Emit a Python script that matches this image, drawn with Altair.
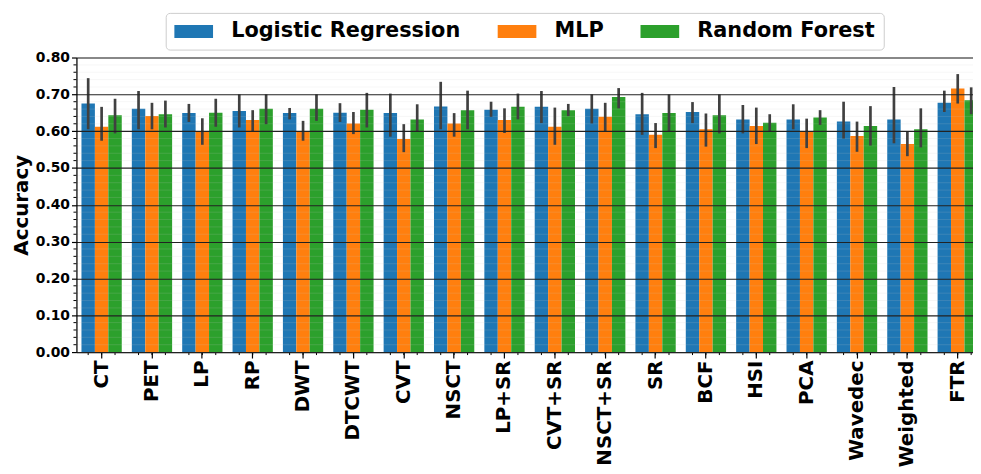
import altair as alt
import pandas as pd

categories = ["CT", "PET", "LP", "RP", "DWT", "DTCWT", "CVT", "NSCT", "LP+SR",
              "CVT+SR", "NSCT+SR", "SR", "BCF", "HSI", "PCA", "Wavedec", "Weighted", "FTR"]
models = ["Logistic Regression", "MLP", "Random Forest"]

lr_mean = [0.675, 0.661, 0.649, 0.655, 0.649, 0.650, 0.649, 0.667, 0.658,
           0.666, 0.661, 0.646, 0.652, 0.632, 0.632, 0.626, 0.632, 0.677]
lr_lo = [0.605, 0.605, 0.625, 0.610, 0.632, 0.625, 0.585, 0.605, 0.639,
         0.622, 0.621, 0.590, 0.622, 0.594, 0.605, 0.580, 0.567, 0.652]
lr_hi = [0.744, 0.709, 0.674, 0.700, 0.663, 0.676, 0.702, 0.734, 0.680,
         0.709, 0.700, 0.704, 0.679, 0.671, 0.673, 0.680, 0.720, 0.710]

mlp_mean = [0.612, 0.641, 0.598, 0.630, 0.599, 0.621, 0.579, 0.621, 0.630,
            0.612, 0.639, 0.590, 0.605, 0.614, 0.599, 0.587, 0.565, 0.716]
mlp_lo = [0.574, 0.605, 0.563, 0.599, 0.574, 0.592, 0.543, 0.585, 0.595,
          0.563, 0.599, 0.554, 0.558, 0.565, 0.554, 0.544, 0.532, 0.675]
mlp_hi = [0.666, 0.677, 0.635, 0.657, 0.628, 0.652, 0.619, 0.649, 0.662,
          0.664, 0.677, 0.622, 0.648, 0.664, 0.634, 0.626, 0.598, 0.755]

rf_mean = [0.643, 0.646, 0.650, 0.661, 0.661, 0.658, 0.632, 0.657, 0.666,
           0.657, 0.693, 0.649, 0.643, 0.623, 0.637, 0.614, 0.605, 0.684]
rf_lo = [0.594, 0.610, 0.612, 0.619, 0.628, 0.610, 0.599, 0.605, 0.632,
         0.641, 0.662, 0.599, 0.594, 0.598, 0.617, 0.561, 0.556, 0.646]
rf_hi = [0.688, 0.683, 0.688, 0.700, 0.700, 0.704, 0.673, 0.710, 0.702,
         0.674, 0.717, 0.700, 0.700, 0.646, 0.657, 0.668, 0.662, 0.719]

colors = ["#1f77b4", "#ff7f0e", "#2ca02c"]
major_ticks = [0.0, 0.1, 0.2, 0.3, 0.4, 0.5, 0.6, 0.7, 0.8]
minor_ticks = [0.02, 0.04, 0.06, 0.08, 0.12, 0.14, 0.16, 0.18, 0.22, 0.24, 0.26, 0.28,
               0.32, 0.34, 0.36, 0.38, 0.42, 0.44, 0.46, 0.48, 0.52, 0.54, 0.56, 0.58,
               0.62, 0.64, 0.66, 0.68, 0.72, 0.74, 0.76, 0.78]

rows = []
for m, means, los, his in zip(models, [lr_mean, mlp_mean, rf_mean],
                              [lr_lo, mlp_lo, rf_lo], [lr_hi, mlp_hi, rf_hi]):
    for c, v, lo, hi in zip(categories, means, los, his):
        rows.append({"method": c, "model": m, "acc": v, "lo": lo, "hi": hi})
df = pd.DataFrame(rows)

FONT = "DejaVu Sans"
W, H = 904, 297

xscale = alt.Scale(domain=categories, range=[0, 914], paddingInner=0.2, paddingOuter=0.1)
xaxis = alt.Axis(title=None, labelAngle=-90, labelFontSize=20, labelFontWeight="bold",
                 labelFont=FONT, labelColor="black", tickSize=6, tickColor="black",
                 tickWidth=1.2, domainColor="black", domainWidth=1.2, labelPadding=2,
                 labelLimit=200)
xoff = alt.XOffset("model:N", sort=models, scale=alt.Scale(paddingInner=0, paddingOuter=0))
yscale = alt.Scale(domain=[0, 0.8], nice=False, zero=True)
yaxis = alt.Axis(title="Accuracy", values=major_ticks, tickCount=9, format=".2f",
                 labelFontSize=14, labelFontWeight="bold", labelFont=FONT,
                 labelColor="black", labelOverlap=False,
                 titleFontSize=20, titleFontWeight="bold",
                 titleFont=FONT, titleColor="black", titlePadding=4,
                 tickSize=5, tickColor="black", tickWidth=1.2,
                 domainColor="black", domainWidth=1.2,
                 grid=True, gridColor="#222222", gridWidth=1.1, zindex=1)

bars = alt.Chart(df).mark_bar(opacity=1).encode(
    x=alt.X("method:N", scale=xscale, sort=categories, axis=xaxis),
    xOffset=xoff,
    y=alt.Y("acc:Q", scale=yscale, axis=yaxis),
    color=alt.Color("model:N", sort=models, scale=alt.Scale(domain=models, range=colors),
                    legend=alt.Legend(title=None, orient="none", legendX=90, legendY=-45,
                                      direction="horizontal",
                                      symbolType="M-1,-0.667H3V0.667H-1Z", symbolSize=380,
                                      symbolStrokeWidth=0, symbolOpacity=1,
                                      labelFontSize=21, labelFontWeight="bold", labelFont=FONT,
                                      labelColor="black", labelOffset=37, labelLimit=400,
                                      columnPadding=36,
                                      padding=8, fillColor="white", strokeColor="#cccccc",
                                      cornerRadius=4)),
)

minor_df = pd.DataFrame({"v": minor_ticks})
minor_grid = alt.Chart(minor_df).mark_rule(color="#cccccc", strokeWidth=0.5, opacity=0.35).encode(
    y=alt.Y("v:Q", scale=yscale, axis=yaxis), x=alt.value(0), x2=alt.value(W))
minor_yticks = alt.Chart(minor_df).mark_rule(color="black", strokeWidth=1).encode(
    y=alt.Y("v:Q", scale=yscale, axis=yaxis), x=alt.value(-3), x2=alt.value(0))

errs = alt.Chart(df).mark_rule(color="#404040", strokeWidth=2.7).encode(
    x=alt.X("method:N", scale=xscale, sort=categories, axis=xaxis),
    xOffset=xoff,
    y=alt.Y("lo:Q", scale=yscale, axis=yaxis),
    y2="hi:Q",
)

xminor = alt.Chart(df).mark_rule(color="black", strokeWidth=1).encode(
    x=alt.X("method:N", scale=xscale, sort=categories, axis=xaxis),
    xOffset=xoff,
    y=alt.value(H), y2=alt.value(H + 3),
)

chart = alt.layer(bars, minor_grid, errs, minor_yticks, xminor).properties(
    width=W, height=H,
    autosize=alt.AutoSizeParams(type="none"),
    padding={"left": 69, "top": 48, "right": 0, "bottom": 121},
).configure_view(stroke=None).configure(background="white")

chart.save("out.html", embed_options={"renderer": "svg", "actions": False})
